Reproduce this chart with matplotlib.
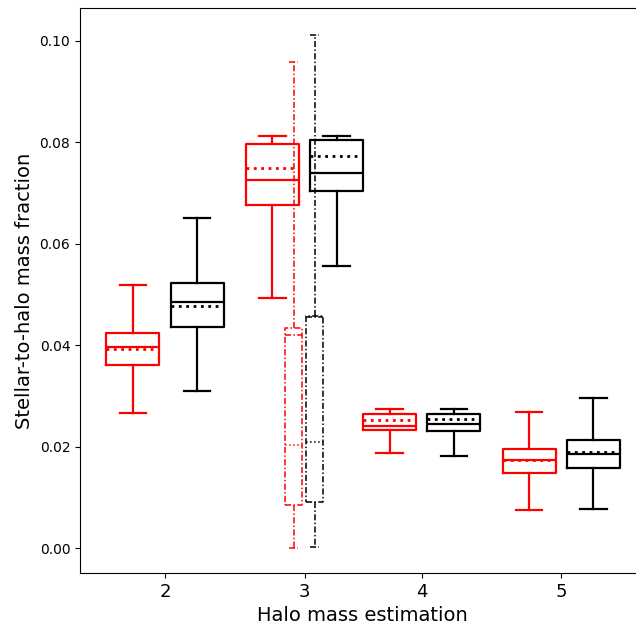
import matplotlib
matplotlib.use("Agg")
import matplotlib.pyplot as plt

# group centres on the x axis and their labels
group_pos = [1.0, 2.0, 2.84, 3.84]
group_labels = ["2", "3", "4", "5"]

# box statistics per group: whisker low, q1, median, mean, q3, whisker high
red_whislo = [0.0267, 0.0493, 0.0188, 0.0076]
red_q1 = [0.0362, 0.0676, 0.0233, 0.0149]
red_med = [0.0396, 0.0725, 0.0240, 0.0173]
red_mean = [0.0393, 0.0749, 0.0253, 0.0174]
red_q3 = [0.0425, 0.0797, 0.0264, 0.0196]
red_whishi = [0.0519, 0.0813, 0.0275, 0.0268]

black_whislo = [0.0310, 0.0556, 0.0181, 0.0077]
black_q1 = [0.0437, 0.0705, 0.0231, 0.0158]
black_med = [0.0485, 0.0740, 0.0245, 0.0185]
black_mean = [0.0478, 0.0774, 0.0254, 0.0190]
black_q3 = [0.0522, 0.0805, 0.0264, 0.0213]
black_whishi = [0.0651, 0.0813, 0.0274, 0.0296]

# the wide distribution at group 3 (dash-dot)
alt_red = dict(whislo=0.0001, q1=0.0085, med=0.0420, mean=0.0203, q3=0.0434, whishi=0.0958)
alt_black = dict(whislo=0.0002, q1=0.0091, med=0.0455, mean=0.0210, q3=0.0458, whishi=0.1012)


def make_stats(lo, q1, med, mean, q3, hi):
    return [dict(whislo=a, q1=b, med=c, mean=d, q3=e, whishi=f, fliers=[])
            for a, b, c, d, e, f in zip(lo, q1, med, mean, q3, hi)]


def draw(ax, stats, positions, color, ls, lw, width, mean_lw):
    ax.bxp(stats, positions=positions, widths=width, showmeans=True, meanline=True,
           showfliers=False, manage_ticks=False,
           boxprops=dict(color=color, linestyle=ls, linewidth=lw),
           whiskerprops=dict(color=color, linestyle=ls, linewidth=lw),
           capprops=dict(color=color, linestyle=ls, linewidth=lw),
           medianprops=dict(color=color, linestyle=ls, linewidth=lw),
           meanprops=dict(color=color, linestyle=":", linewidth=mean_lw))


fig = plt.figure(figsize=(6.36, 6.25), dpi=100)
ax = fig.add_axes([80 / 636, 52 / 625, 565 / 636, 565 / 625])

off = 0.23
draw(ax, make_stats(red_whislo, red_q1, red_med, red_mean, red_q3, red_whishi),
     [p - off for p in group_pos], "red", "-", 1.6, 0.38, 2.0)
draw(ax, make_stats(black_whislo, black_q1, black_med, black_mean, black_q3, black_whishi),
     [p + off for p in group_pos], "black", "-", 1.6, 0.38, 2.0)

alt_red["fliers"] = []
alt_black["fliers"] = []
draw(ax, [alt_red], [group_pos[1] - 0.078], "red", (0, (4, 1.5, 1, 1.5)), 1.1, 0.12, 1.1)
draw(ax, [alt_black], [group_pos[1] + 0.073], "black", (0, (4, 1.5, 1, 1.5)), 1.1, 0.12, 1.1)

ax.set_xticks(group_pos)
ax.set_xticklabels(group_labels, fontsize=13)
ax.tick_params(axis="y", labelsize=10)
ax.set_xlim(1 - 85 / 139.5, 1 + 480 / 139.5)
ax.set_ylim(-0.0049, 0.1065)
ax.set_xlabel("Halo mass estimation", fontsize=14)
ax.set_ylabel("Stellar-to-halo mass fraction", fontsize=14)

fig.savefig("out.png", dpi=100)
